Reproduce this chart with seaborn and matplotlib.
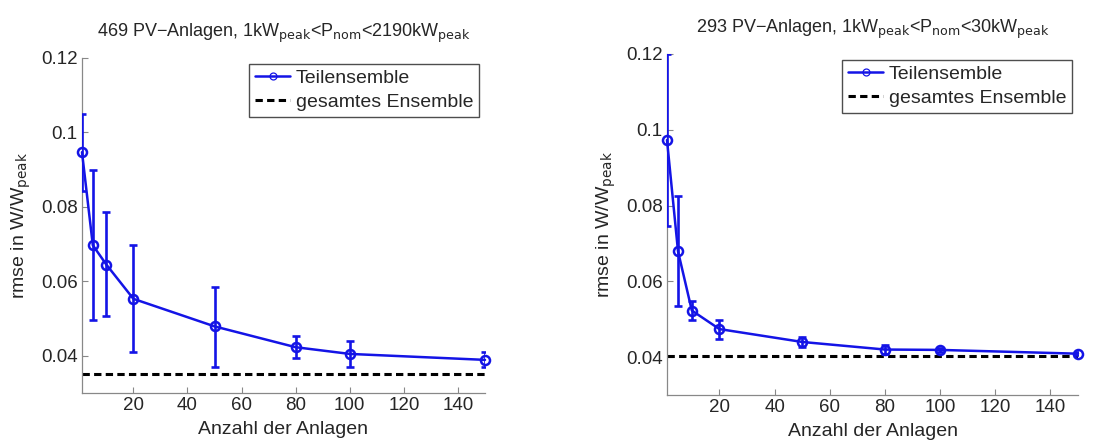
import numpy as np
import pandas as pd
import matplotlib
matplotlib.use("Agg")
import matplotlib.pyplot as plt
import seaborn as sns

# Anzahl der Anlagen im Teilensemble
anzahl = [1, 5, 10, 20, 50, 80, 100, 150]

# links: 469 PV-Anlagen, 1 < P_nom < 2190 kWp
rmse_alle = [0.0947, 0.0697, 0.0645, 0.0553, 0.0479, 0.0423, 0.0405, 0.0389]
err_oben_alle = [0.1050, 0.0898, 0.0787, 0.0698, 0.0586, 0.0454, 0.0439, 0.0409]
err_unten_alle = [0.0844, 0.0497, 0.0506, 0.0411, 0.0371, 0.0394, 0.0371, 0.0369]
gesamt_alle = 0.0351

# rechts: 293 PV-Anlagen, 1 < P_nom < 30 kWp
rmse_klein = [0.0973, 0.0679, 0.0523, 0.0474, 0.0440, 0.0420, 0.0419, 0.0409]
err_oben_klein = [0.1200, 0.0825, 0.0548, 0.0499, 0.0452, 0.0433, 0.0425, 0.0413]
err_unten_klein = [0.0747, 0.0535, 0.0497, 0.0449, 0.0426, 0.0409, 0.0413, 0.0405]
gesamt_klein = 0.0404

titel = [r"469 PV−Anlagen, 1kW$_{\rm peak}$<P$_{\rm nom}$<2190kW$_{\rm peak}$",
         r"293 PV−Anlagen, 1kW$_{\rm peak}$<P$_{\rm nom}$<30kW$_{\rm peak}$"]

sns.set_style("white")
plt.rcParams["font.family"] = ["Liberation Sans", "DejaVu Sans"]
plt.rcParams["mathtext.default"] = "regular"

blau = "#1414e6"

fig = plt.figure(figsize=(11.2, 4.41), dpi=100)
ax1 = fig.add_axes([82 / 1120, 1 - 393 / 441, 403 / 1120, 335 / 441])
ax2 = fig.add_axes([667 / 1120, 1 - 395 / 441, 411 / 1120, 341 / 441])

daten = [(ax1, rmse_alle, err_oben_alle, err_unten_alle, gesamt_alle),
         (ax2, rmse_klein, err_oben_klein, err_unten_klein, gesamt_klein)]

for i, (ax, rmse, oben, unten, gesamt) in enumerate(daten):
    df = pd.DataFrame({"n": anzahl, "rmse": rmse})
    yerr = [np.array(rmse) - np.array(unten), np.array(oben) - np.array(rmse)]
    ax.errorbar(anzahl, rmse, yerr=yerr, fmt="none", ecolor=blau,
                elinewidth=1.9, capsize=2.6, capthick=1.9, zorder=3)
    sns.lineplot(data=df, x="n", y="rmse", ax=ax, color=blau, linewidth=1.8,
                 marker="o", markersize=6.5, markerfacecolor="none",
                 markeredgecolor=blau, markeredgewidth=1.8,
                 label="Teilensemble", clip_on=False, zorder=4)
    ax.axhline(gesamt, color="black", linestyle=(0, (2.4, 1.4)), linewidth=2.2,
               label="gesamtes Ensemble", zorder=1)

    ax.set_xlim(1, 150)
    ax.set_ylim(0.03, 0.12)
    ax.set_xticks([20, 40, 60, 80, 100, 120, 140])
    ax.set_yticks([0.04, 0.06, 0.08, 0.1, 0.12])
    ax.set_yticklabels(["0.04", "0.06", "0.08", "0.1", "0.12"])
    ax.tick_params(direction="in", length=4, width=0.8, color="#888888",
                   labelsize=13.5, pad=3, bottom=True, left=True)
    for s in ["top", "right"]:
        ax.spines[s].set_visible(False)
    for s in ["left", "bottom"]:
        ax.spines[s].set_color("#888888")
        ax.spines[s].set_linewidth(0.9)

    ax.set_xlabel("Anzahl der Anlagen", fontsize=14, labelpad=5)
    ax.set_ylabel(r"rmse in W/W$_{\rm peak}$", fontsize=14, labelpad=6)
    ax.set_title(titel[i], fontsize=13, pad=15)

    leg = ax.legend(loc="upper right", fontsize=14, frameon=True, fancybox=False,
                    borderaxespad=0.3, borderpad=0.3, labelspacing=0.3,
                    handlelength=1.8, handletextpad=0.3)
    leg.get_frame().set_edgecolor("#222222")
    leg.get_frame().set_linewidth(1.0)
    for h in leg.legend_handles:
        if h.get_marker() == "o":
            h.set_markersize(5)
            h.set_markeredgewidth(0.9)

fig.savefig("out.png", dpi=100)
